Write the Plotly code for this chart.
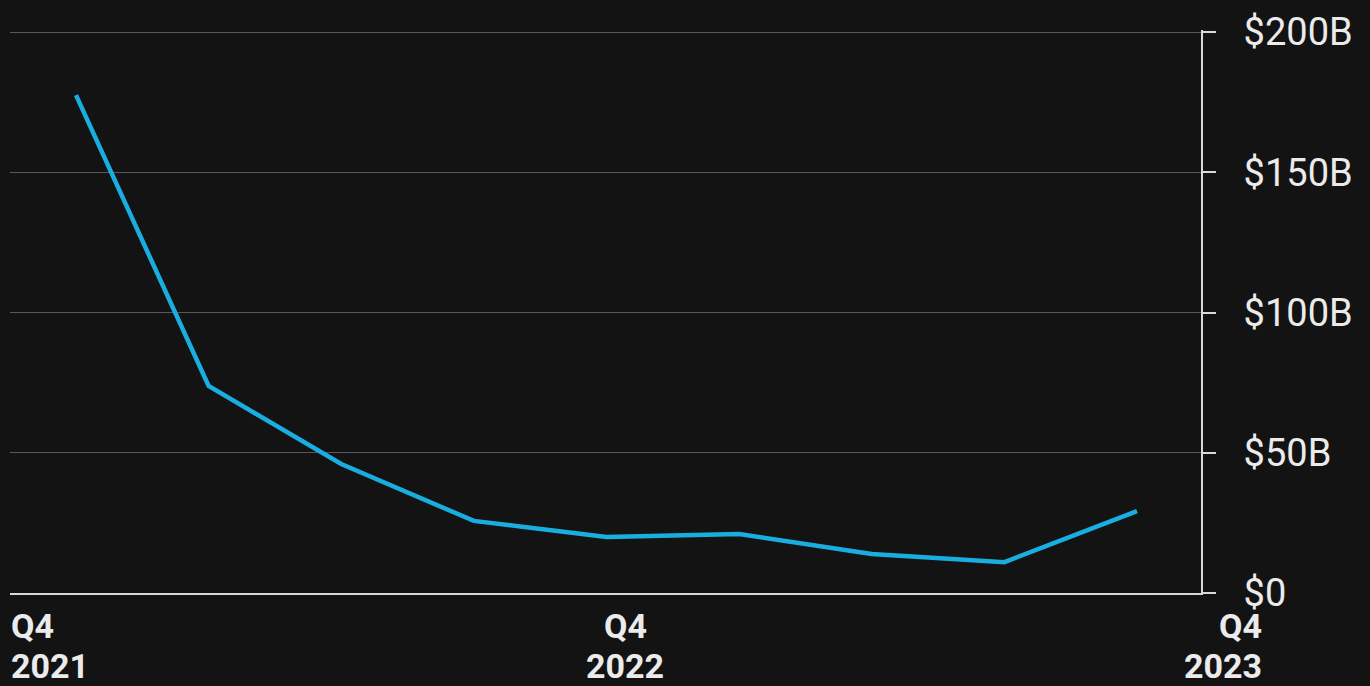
import plotly.graph_objects as go

quarters = ["Q4 2021", "Q1 2022", "Q2 2022", "Q3 2022", "Q4 2022",
            "Q1 2023", "Q2 2023", "Q3 2023", "Q4 2023"]
values_b = [177.5, 73.8, 46.0, 25.7, 20.0, 21.0, 13.9, 11.0, 29.2]

y_tickvals = [0, 50, 100, 150, 200]
y_ticktext = ["$0", "$50B", "$100B", "$150B", "$200B"]

x_label_quarter = ["Q4", "Q4", "Q4"]
x_label_year = ["2021", "2022", "2023"]

BG = "#131313"
TXT = "#ebebeb"
AXIS = "#d9d9d9"
GRID = "#5a5a5a"
LINE = "#1aaee0"

idx = list(range(len(quarters)))

fig = go.Figure()
fig.add_trace(go.Scatter(
    x=idx, y=values_b, mode="lines",
    line=dict(color=LINE, width=4.5),
    text=quarters, hoverinfo="text+y",
))

fig.update_layout(
    width=1370, height=686,
    margin=dict(l=10, r=1370 - 1201, t=30, b=686 - 593),
    paper_bgcolor=BG, plot_bgcolor=BG,
    showlegend=False,
    xaxis=dict(
        range=[-0.4977, 8.4826],
        showgrid=False, zeroline=False,
        showline=True, linecolor=AXIS, linewidth=2,
        showticklabels=False, ticks="",
    ),
    yaxis=dict(
        side="right", range=[0, 200.72],
        tickvals=y_tickvals, ticktext=y_ticktext,
        showgrid=True, gridcolor=GRID, gridwidth=1,
        zeroline=False,
        showline=True, linecolor=AXIS, linewidth=2,
        ticks="outside", ticklen=13, tickwidth=2, tickcolor=AXIS,
        ticklabelstandoff=20,
        tickfont=dict(family="Roboto", size=38, color=TXT),
    ),
)

# x labels: left-aligned, centred, right-aligned
x_pos = [0.0, 0.5164, 1.052]
anchors = ["left", "center", "right"]
for q, yr, xp, anc in zip(x_label_quarter, x_label_year, x_pos, anchors):
    fig.add_annotation(x=xp, y=-0.0588, xref="paper", yref="paper",
                       text=f"<b>{q}</b>", showarrow=False, xanchor=anc, yanchor="middle",
                       font=dict(family="Roboto", size=34, color=TXT), borderpad=0)
    fig.add_annotation(x=xp, y=-0.1301, xref="paper", yref="paper",
                       text=f"<b>{yr}</b>", showarrow=False, xanchor=anc, yanchor="middle",
                       font=dict(family="Roboto", size=34, color=TXT), borderpad=0)

fig.write_html("out.html")
